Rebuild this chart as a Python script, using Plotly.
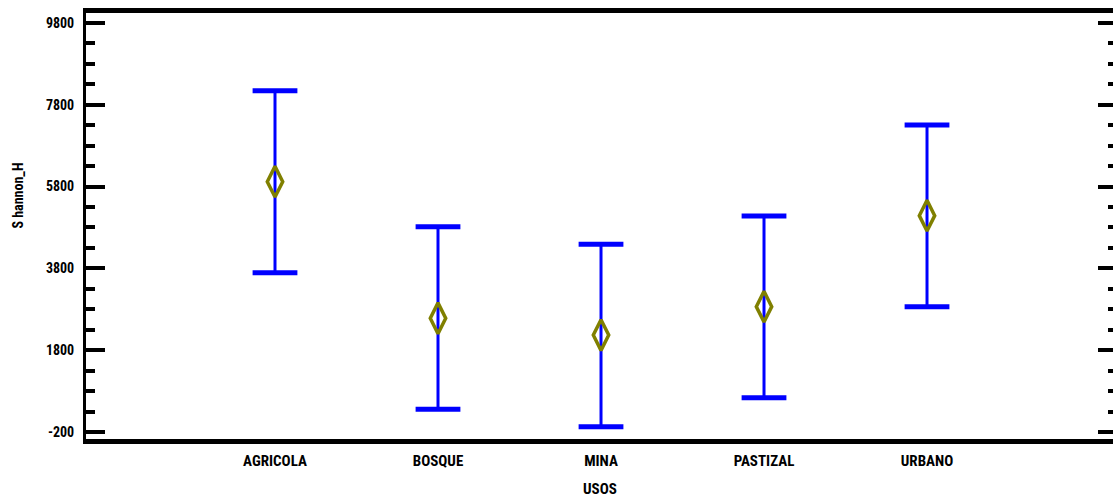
import plotly.graph_objects as go

# ---- data ----
categories = ["AGRICOLA", "BOSQUE", "MINA", "PASTIZAL", "URBANO"]
means = [5920, 2580, 2170, 2865, 5090]
lower = [3695, 355, -70, 640, 2865]
upper = [8145, 4820, 4390, 5080, 7305]
y_tickvals = [-200, 1800, 3800, 5800, 7800, 9800]
y_ticktext = ["-200", "1800", "3800", "5800", "7800", "9800"]
y_title = "S hannon_H"
x_title = "USOS"

FONT = "Liberation Sans Narrow, Arial Narrow, Roboto Condensed, DejaVu Sans Condensed, sans-serif"
BLUE = "#0000FF"
OLIVE = "#808000"

xpos = list(range(1, len(categories) + 1))
err_plus = [u - m for u, m in zip(upper, means)]
err_minus = [m - l for m, l in zip(means, lower)]

fig = go.Figure()

# interval lines
fig.add_trace(go.Scatter(
    x=xpos, y=means, mode="markers",
    marker=dict(size=1, color="rgba(0,0,0,0)"),
    error_y=dict(type="data", array=err_plus, arrayminus=err_minus,
                 color=BLUE, thickness=3, width=0),
    showlegend=False, hoverinfo="skip"))

# caps
fig.add_trace(go.Scatter(
    x=xpos + xpos, y=lower + upper, mode="markers",
    marker=dict(symbol="line-ew", size=32, line=dict(color=BLUE, width=5)),
    showlegend=False, hoverinfo="skip"))

# means
fig.add_trace(go.Scatter(
    x=xpos, y=means, mode="markers",
    marker=dict(symbol="diamond-tall-open", size=22, color=OLIVE,
                line=dict(color=OLIVE, width=3.5)),
    showlegend=False, hoverinfo="skip"))

# dummy trace for the right-hand tick axis
fig.add_trace(go.Scatter(x=[None], y=[None], yaxis="y2", showlegend=False,
                         hoverinfo="skip"))

yrange = [-371, 10044]

fig.update_layout(
    width=1113, height=502,
    margin=dict(l=86, r=0, t=13, b=63),
    paper_bgcolor="white", plot_bgcolor="white",
    font=dict(family=FONT, size=15, color="black", weight="bold"),
    xaxis=dict(
        range=[-0.1595, 6.141],
        tickvals=xpos, ticktext=categories, ticks="",
        showline=True, linecolor="black", linewidth=5, mirror=True,
        showgrid=False, zeroline=False,
        tickfont=dict(family=FONT, size=15, color="black", weight="bold"),
        ticklabelstandoff=4,
    ),
    yaxis=dict(
        range=yrange,
        tickvals=y_tickvals, ticktext=y_ticktext,
        ticks="inside", ticklen=19, tickwidth=4,
        tickcolor="black",
        showline=True, linecolor="black", linewidth=3, mirror=False,
        showgrid=False, zeroline=False,
        tickfont=dict(family=FONT, size=14, color="black", weight="bold"),
        ticklabelstandoff=6,
        minor=dict(dtick=500, tick0=-200, ticks="inside", ticklen=9,
                   tickwidth=4, tickcolor="black", showgrid=False),
    ),
    yaxis2=dict(
        overlaying="y", side="right", range=yrange,
        tickvals=y_tickvals, ticks="inside", ticklen=15, tickwidth=4,
        tickcolor="black", showticklabels=False,
        showline=False, showgrid=False, zeroline=False,
        minor=dict(dtick=500, tick0=-200, ticks="inside", ticklen=5,
                   tickwidth=4, tickcolor="black", showgrid=False),
    ),
    annotations=[
        dict(text=y_title, xref="paper", yref="paper", x=-0.066, y=0.572,
             xanchor="center", yanchor="middle", textangle=-90,
             showarrow=False,
             font=dict(family=FONT, size=14, color="black", weight="bold")),
        dict(text=x_title, xref="paper", yref="paper", x=0.5, y=-0.118,
             xanchor="center", yanchor="middle", showarrow=False,
             font=dict(family=FONT, size=15, color="black", weight="bold")),
    ],
)

fig.write_html("out.html")
